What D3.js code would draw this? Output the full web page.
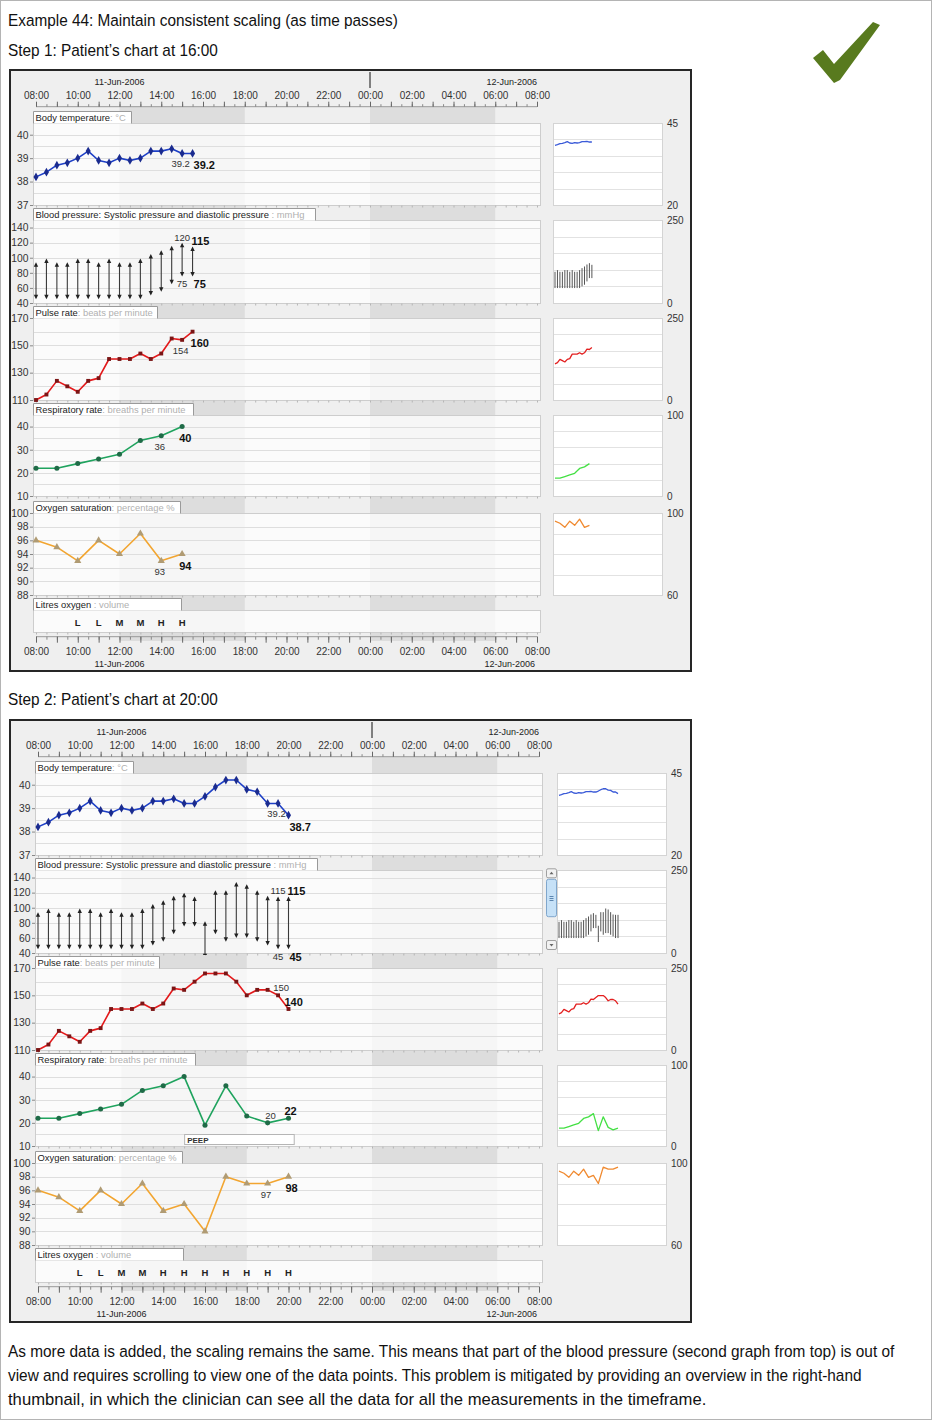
<!DOCTYPE html>
<html>
<head>
<meta charset="utf-8">
<script src="https://cdn.jsdelivr.net/npm/d3@7"></script>
<style>
  body { margin: 0; background: #fff; }
  svg text { font-family: "Liberation Sans", Arial, sans-serif; }
</style>
</head>
<body>
<svg id="page"></svg>
<script>
// ---- data ----
const halfHourTimes = ["08:00","08:30","09:00","09:30","10:00","10:30","11:00","11:30","12:00","12:30",
  "13:00","13:30","14:00","14:30","15:00","15:30","16:00","16:30","17:00","17:30","18:00","18:30",
  "19:00","19:30","20:00"];
const temperature = [38.2, 38.4, 38.7, 38.8, 39.0, 39.3, 38.9, 38.8, 39.0, 38.9, 39.0, 39.3, 39.3,
  39.4, 39.2, 39.2, 39.5, 39.9, 40.2, 40.2, 39.8, 39.7, 39.2, 39.2, 38.7];
const systolic = [94, 99, 94, 94, 99, 99, 94, 99, 94, 94, 99, 105, 110, 116, 120, 115, 82, 123, 123,
  134, 131, 123, 116, 115, 115];
const diastolic = [45, 45, 45, 45, 45, 45, 45, 45, 45, 45, 45, 50, 55, 65, 75, 75, 33, 65, 55, 60,
  60, 55, 50, 45, 45];
const pulse = [110, 114, 124, 120, 116, 124, 126, 140, 140, 140, 144, 140, 144, 155, 154, 160, 166,
  166, 166, 160, 150, 154, 154, 150, 140];

const hourTimes = ["08:00","09:00","10:00","11:00","12:00","13:00","14:00","15:00","16:00","17:00",
  "18:00","19:00","20:00"];
const respiratory = [22, 22, 24, 26, 28, 34, 36, 40, 19, 36, 23, 20, 22];
const oxygenSaturation = [96, 95, 93, 96, 94, 97, 93, 94, 90, 98, 97, 97, 98];

const litresTimes = ["10:00","11:00","12:00","13:00","14:00","15:00","16:00","17:00","18:00","19:00","20:00"];
const litresOxygen = ["L","L","M","M","H","H","H","H","H","H","H"];

const respiratoryNotes = [{ label: "PEEP", from: "15:00", to: "20:15" }];

const temperatureTicks = [37, 38, 39, 40];
const bpTicks = [40, 60, 80, 100, 120, 140];
const pulseTicks = [110, 130, 150, 170];
const respTicks = [10, 20, 30, 40];
const oxygenTicks = [88, 90, 92, 94, 96, 98, 100];

const shadedPeriods = [["2006-06-11 12:00", "2006-06-11 18:00"], ["2006-06-12 00:00", "2006-06-12 06:00"]];
const dayLabels = [["2006-06-11 12:00", "11-Jun-2006", "middle"], ["2006-06-12 08:00", "12-Jun-2006", "end"]];

const steps = [
  { title: "Step 1: Patient\u2019s chart at 16:00", last: "15:30", dx: 0, dy: 0, thumbDx: 0,
    frameY: 70, frameH: 601, titleY: 56, scrollbar: false, notes: false,
    place: { temperature: "below", pulse: "below", resp: "below", oxygen: "below" } },
  { title: "Step 2: Patient\u2019s chart at 20:00", last: "20:00", dx: 2, dy: 650, thumbDx: 2,
    frameY: 720, frameH: 602, titleY: 705, scrollbar: true, notes: true,
    place: { temperature: "below", pulse: "above", resp: "above", oxygen: "below" } }
];

const paragraph = [
  ["As more data is added, the scaling remains the same. This means that part of the blood pressure (second graph from top) is out of", 887],
  ["view and requires scrolling to view one of the data points. This problem is mitigated by providing an overview in the right-hand", 854],
  ["thumbnail, in which the clinician can see all the data for all the measurements in the timeframe.", 699]
];

// ---- layout ----
const parse = d3.timeParse("%Y-%m-%d %H:%M");
const t = s => parse("2006-06-11 " + s);
const tStart = parse("2006-06-11 08:00"), tEnd = parse("2006-06-12 08:00");
const fmtTime = d3.timeFormat("%H:%M");

const x = d3.scaleTime().domain([tStart, tEnd]).range([36, 537]);
const plotL = 33, plotR = 540;

const panels = [
  { key: "temperature", label: "Body temperature", unit: ": \u00B0C", top: 111, h: 82, boxW: 98,
    domain: [37, 40.5], ticks: temperatureTicks, grid: 0.5, thumbDomain: [20, 45], thumbStep: 5 },
  { key: "bp", label: "Blood pressure: Systolic pressure and diastolic pressure", unit: " : mmHg", top: 208, h: 83, boxW: 282,
    domain: [40, 150], ticks: bpTicks, grid: 20, thumbDomain: [0, 250], thumbStep: 50 },
  { key: "pulse", label: "Pulse rate", unit: ": beats per minute", top: 306, h: 82, boxW: 124,
    domain: [110, 170], ticks: pulseTicks, grid: 10, thumbDomain: [0, 250], thumbStep: 50 },
  { key: "resp", label: "Respiratory rate", unit: ": breaths per minute", top: 403, h: 81, boxW: 160,
    domain: [10, 45], ticks: respTicks, grid: 5, thumbDomain: [0, 100], thumbStep: 20 },
  { key: "oxygen", label: "Oxygen saturation", unit: ": percentage %", top: 501, h: 82, boxW: 147,
    domain: [88, 100], ticks: oxygenTicks, grid: 2, thumbDomain: [60, 100], thumbStep: 10 },
  { key: "litres", label: "Litres oxygen", unit: " : volume", top: 598, h: 22, boxW: 148 }
];

const series = {
  temperature: { times: halfHourTimes, values: temperature, color: "#1d3fc6", marker: "#1a2b8f",
    symbol: d3.symbolDiamond, size: 22, fmt: d3.format(".1f"), thumb: "#3a5ad8", boldDx: 1 },
  pulse: { times: halfHourTimes, values: pulse, color: "#e3191b", marker: "#7b1515",
    symbol: d3.symbolSquare, size: 15, fmt: d3.format("d"), thumb: "#e32020", boldDx: -2 },
  resp: { times: hourTimes, values: respiratory, color: "#1fa35e", marker: "#1f6b47",
    symbol: d3.symbolCircle, size: 20, fmt: d3.format("d"), thumb: "#44e044", boldDx: -3 },
  oxygen: { times: hourTimes, values: oxygenSaturation, color: "#f2a530", marker: "#b09b73",
    symbol: d3.symbolTriangle, size: 22, fmt: d3.format("d"), thumb: "#f08a30", boldDx: -3 }
};

const svg = d3.select("#page").attr("width", 932).attr("height", 1420);
svg.append("rect").attr("x", 0.5).attr("y", 0.5).attr("width", 931).attr("height", 1419)
  .attr("fill", "#fff").attr("stroke", "#b4b4b4");

// condensed-looking text: squeeze horizontally to the width seen in the picture
function narrowText(x0, y0, str, target) {
  const tx = svg.append("text").attr("font-size", 17).attr("fill", "#111").text(str);
  const w = tx.node().getComputedTextLength();
  tx.attr("transform", `translate(${x0},${y0}) scale(${(target / w).toFixed(4)},1)`);
}

narrowText(8, 26, "Example 44: Maintain consistent scaling (as time passes)", 390);

// green tick mark
svg.append("path")
  .attr("d", "M813,58 L823,50 L834,64 L873,22 L880,25 L840,80 L834,83 Z")
  .attr("fill", "#587a1e");

paragraph.forEach(([line, len], i) => narrowText(8, 1357 + i * 24, line, len));

function styleAxis(ax, size, color) {
  ax.select(".domain").remove();
  ax.selectAll("text").attr("font-size", size).attr("fill", color || "#333")
    .attr("font-family", "Liberation Sans, Arial, sans-serif");
  ax.selectAll("line").attr("stroke", "#888");
}

function timeAxis(g, y, orient) {
  const mk = orient === "top" ? d3.axisTop : d3.axisBottom;
  g.append("line").attr("x1", x(tStart)).attr("x2", x(tEnd))
    .attr("y1", y).attr("y2", y).attr("stroke", "#999");
  const minor = g.append("g").attr("transform", `translate(0,${y})`)
    .call(mk(x).ticks(d3.timeMinute.every(30)).tickSize(orient === "top" ? 2.5 : 3).tickFormat("").tickSizeOuter(0));
  styleAxis(minor, 10);
  const major = g.append("g").attr("transform", `translate(0,${y})`)
    .call(mk(x).ticks(d3.timeHour.every(1)).tickSize(orient === "top" ? 5 : 6)
      .tickPadding(orient === "top" ? 2.4 : 5.2).tickSizeOuter(0)
      .tickFormat(d => d.getHours() % 2 === 0 ? fmtTime(d) : ""));
  styleAxis(major, 10);
  major.selectAll("line").attr("stroke", "#666");
}

function valueLabels(gp, pts, px, py, s, place) {
  const prev = pts[pts.length - 2], last = pts[pts.length - 1];
  if (place === "below") {
    gp.append("text").attr("x", px(prev) - 1.5).attr("y", py(prev) + 14).attr("text-anchor", "middle")
      .attr("font-size", 9.5).attr("fill", "#333").text(s.fmt(prev.v));
    gp.append("text").attr("x", px(last) + s.boldDx).attr("y", py(last) + 15.5)
      .attr("font-size", 11).attr("font-weight", "bold").attr("fill", "#111").text(s.fmt(last.v));
  } else {
    gp.append("text").attr("x", px(prev) + 3).attr("y", py(prev) - 4).attr("text-anchor", "middle")
      .attr("font-size", 9.5).attr("fill", "#333").text(s.fmt(prev.v));
    gp.append("text").attr("x", px(last) - 4).attr("y", py(last) - 3)
      .attr("font-size", 11).attr("font-weight", "bold").attr("fill", "#111").text(s.fmt(last.v));
  }
}

function drawStep(step, si) {
  const lastT = t(step.last);

  svg.append("rect").attr("x", 10).attr("y", step.frameY).attr("width", 681).attr("height", step.frameH)
    .attr("fill", "#efefef").attr("stroke", "#262626").attr("stroke-width", 2);
  narrowText(8, step.titleY, step.title, 210);

  const g = svg.append("g").attr("transform", `translate(${step.dx},${step.dy})`);

  // shift shading
  shadedPeriods.forEach(([a, b]) => {
    g.append("rect").attr("x", x(parse(a))).attr("width", x(parse(b)) - x(parse(a)))
      .attr("y", 107).attr("height", 534).attr("fill", "#000").attr("opacity", 0.075);
  });

  // top axis with dates
  timeAxis(g, 106.7, "top");
  g.append("line").attr("x1", x(parse("2006-06-12 00:00"))).attr("x2", x(parse("2006-06-12 00:00")))
    .attr("y1", 72).attr("y2", 88).attr("stroke", "#111");
  dayLabels.forEach(([d, txt, anchor]) => {
    g.append("text").attr("x", x(parse(d))).attr("y", 85).attr("text-anchor", anchor)
      .attr("font-size", 9).attr("fill", "#222").text(txt);
    g.append("text").attr("x", x(parse(d)) - (anchor === "end" ? 2 : 0)).attr("y", 667).attr("text-anchor", anchor)
      .attr("font-size", 9).attr("fill", "#222").text(txt);
  });
  timeAxis(g, 636.7, "bottom");

  const thumbX0 = 553 + step.thumbDx, thumbW = 109;
  const xt = d3.scaleTime().domain([tStart, tEnd]).range([thumbX0 + 2, thumbX0 + 120]);

  panels.forEach(p => {
    const plotTop = p.top + 12, plotBot = plotTop + p.h;

    // plot area
    g.append("rect").attr("x", plotL + 0.5).attr("y", plotTop + 0.5).attr("width", plotR - plotL).attr("height", p.h)
      .attr("fill", "#fff").attr("fill-opacity", 0.72).attr("stroke", "#cdcdcd");

    // header label box
    g.append("rect").attr("x", plotL + 0.5).attr("y", p.top + 0.5).attr("width", p.boxW).attr("height", 12)
      .attr("fill", "#fff");
    g.append("path").attr("d", `M${plotL + 0.5},${plotTop + 0.5}V${p.top + 0.5}H${plotL + 0.5 + p.boxW}V${plotTop + 0.5}`)
      .attr("fill", "none").attr("stroke", "#9a9a9a");
    const hl = g.append("text").attr("x", plotL + 2.5).attr("y", p.top + 9.8).attr("font-size", 9.4).attr("fill", "#222");
    hl.append("tspan").text(p.label);
    hl.append("tspan").attr("fill", "#b0b0b0").text(p.unit);

    // tiny time ticks under each plot
    const bt = g.append("g").attr("transform", `translate(0,${plotBot + 0.5})`)
      .call(d3.axisBottom(x).ticks(d3.timeMinute.every(30)).tickSize(2).tickFormat("").tickSizeOuter(0));
    styleAxis(bt, 8);
    bt.selectAll("line").attr("stroke", "#b5b5b5");

    if (p.key === "litres") {
      const pts = litresTimes.map((s, i) => ({ t: t(s), v: litresOxygen[i] })).filter(d => d.t <= lastT);
      g.selectAll(null).data(pts).join("text")
        .attr("x", d => x(d.t)).attr("y", plotTop + 15.5).attr("text-anchor", "middle")
        .attr("font-size", 9.5).attr("font-weight", 600).attr("fill", "#222").text(d => d.v);
      return;
    }

    const y = d3.scaleLinear().domain(p.domain).range([plotBot, plotTop]);

    // gridlines
    g.selectAll(null).data(d3.range(p.domain[0] + p.grid, p.domain[1] - 1e-9, p.grid)).join("line")
      .attr("x1", plotL + 1).attr("x2", plotR).attr("y1", d => Math.round(y(d)) + 0.5).attr("y2", d => Math.round(y(d)) + 0.5)
      .attr("stroke", "#dedede");

    // y axis
    const ay = g.append("g").attr("transform", `translate(${plotL},0)`)
      .call(d3.axisLeft(y).tickValues(p.ticks).tickSize(3).tickPadding(1.5).tickFormat(d3.format("d")));
    styleAxis(ay, 10.3);

    // thumbnail overview
    const yt = d3.scaleLinear().domain(p.thumbDomain).range([plotBot, plotTop]);
    g.append("rect").attr("x", thumbX0 + 0.5).attr("y", plotTop + 0.5).attr("width", thumbW).attr("height", p.h)
      .attr("fill", "#fff").attr("stroke", "#d4d4d4");
    g.selectAll(null).data(d3.range(p.thumbDomain[0] + p.thumbStep, p.thumbDomain[1] - 1e-9, p.thumbStep)).join("line")
      .attr("x1", thumbX0 + 1).attr("x2", thumbX0 + thumbW).attr("y1", d => Math.round(yt(d)) + 0.5).attr("y2", d => Math.round(yt(d)) + 0.5)
      .attr("stroke", "#e2e2e2");
    g.append("text").attr("x", thumbX0 + 114).attr("y", plotTop + 4).attr("font-size", 10).attr("fill", "#333")
      .text(p.thumbDomain[1]);
    g.append("text").attr("x", thumbX0 + 114).attr("y", plotBot + 4).attr("font-size", 10).attr("fill", "#333")
      .text(p.thumbDomain[0]);

    if (p.key === "bp") {
      const pts = halfHourTimes.map((s, i) => ({ t: t(s), sys: systolic[i], dia: diastolic[i] })).filter(d => d.t <= lastT);
      const clipId = "bpclip" + si;
      g.append("clipPath").attr("id", clipId).append("rect")
        .attr("x", plotL).attr("y", plotTop).attr("width", plotR - plotL).attr("height", p.h + 2);
      const gp = g.append("g").attr("clip-path", `url(#${clipId})`);
      const a = gp.selectAll(null).data(pts).join("g").attr("transform", d => `translate(${x(d.t)},0)`);
      a.append("line").attr("y1", d => y(d.dia) - 2).attr("y2", d => y(d.sys) + 2)
        .attr("stroke", "#3a3a3a").attr("stroke-width", 1.1);
      a.append("path").attr("d", d => `M0,${y(d.sys)}l-2.2,4.5h4.4z`).attr("fill", "#222");
      a.append("path").attr("d", d => `M0,${y(d.dia)}l-2.2,-4.5h4.4z`).attr("fill", "#222");

      const prev = pts[pts.length - 2], last = pts[pts.length - 1];
      g.append("text").attr("x", x(prev.t)).attr("y", y(prev.sys) - 2).attr("text-anchor", "middle")
        .attr("font-size", 9.5).attr("fill", "#333").text(prev.sys);
      g.append("text").attr("x", x(prev.t)).attr("y", y(prev.dia) + 10.5).attr("text-anchor", "middle")
        .attr("font-size", 9.5).attr("fill", "#333").text(prev.dia);
      g.append("text").attr("x", x(last.t) - 1).attr("y", y(last.sys) - 1.5)
        .attr("font-size", 11).attr("font-weight", "bold").attr("fill", "#111").text(last.sys);
      g.append("text").attr("x", x(last.t) + 1).attr("y", y(last.dia) + 11.5)
        .attr("font-size", 11).attr("font-weight", "bold").attr("fill", "#111").text(last.dia);

      g.selectAll(null).data(pts).join("line")
        .attr("x1", d => xt(d.t)).attr("x2", d => xt(d.t))
        .attr("y1", d => yt(d.dia)).attr("y2", d => yt(d.sys))
        .attr("stroke", "#555").attr("stroke-width", 1);

      if (step.scrollbar) {
        const sx = 544;
        const btn = (y0, up) => {
          g.append("rect").attr("x", sx + 0.5).attr("y", y0 + 0.5).attr("width", 10).attr("height", 9)
            .attr("rx", 1.5).attr("fill", "#f2f2f2").attr("stroke", "#a0a0a0");
          g.append("path").attr("d", up ? `M${sx + 3.5},${y0 + 6}l2,-2.5l2,2.5z` : `M${sx + 3.5},${y0 + 4}l2,2.5l2,-2.5z`)
            .attr("fill", "#666");
        };
        btn(plotTop - 1.7, true);
        g.append("rect").attr("x", sx + 0.5).attr("y", plotTop + 9.3).attr("width", 10).attr("height", 37.4)
          .attr("rx", 2).attr("fill", "#c6e1f7").attr("stroke", "#7fa6cc");
        [-2, 0, 2].forEach(o => g.append("line").attr("x1", sx + 3.5).attr("x2", sx + 7.5)
          .attr("y1", plotTop + 28 + o + 0.5).attr("y2", plotTop + 28 + o + 0.5).attr("stroke", "#5d86b0"));
        btn(plotBot - 13, false);
      }
      return;
    }

    const s = series[p.key];
    const pts = s.times.map((tm, i) => ({ t: t(tm), v: s.values[i] })).filter(d => d.t <= lastT);

    if (p.key === "resp" && step.notes) {
      respiratoryNotes.forEach(n => {
        const x0 = x(t(n.from)), x1 = x(t(n.to));
        g.append("rect").attr("x", x0 + 0.5).attr("y", plotBot - 11.5).attr("width", x1 - x0).attr("height", 10)
          .attr("fill", "#fff").attr("stroke", "#b5b5b5");
        g.append("text").attr("x", x0 + 3).attr("y", plotBot - 3.5).attr("font-size", 8)
          .attr("font-weight", "bold").attr("fill", "#333").text(n.label);
      });
    }

    g.append("path").datum(pts)
      .attr("d", d3.line().x(d => x(d.t)).y(d => y(d.v)))
      .attr("fill", "none").attr("stroke", s.color).attr("stroke-width", 1.6).attr("stroke-linejoin", "round");
    g.selectAll(null).data(pts).join("path")
      .attr("transform", d => `translate(${x(d.t)},${y(d.v)})`)
      .attr("d", d3.symbol(s.symbol, s.size)).attr("fill", s.marker);
    valueLabels(g, pts, d => x(d.t), d => y(d.v), s, step.place[p.key]);

    g.append("path").datum(pts)
      .attr("d", d3.line().x(d => xt(d.t)).y(d => yt(d.v)))
      .attr("fill", "none").attr("stroke", s.thumb).attr("stroke-width", 1.3).attr("stroke-linejoin", "round");
  });
}

steps.forEach(drawStep);
</script>
</body>
</html>
